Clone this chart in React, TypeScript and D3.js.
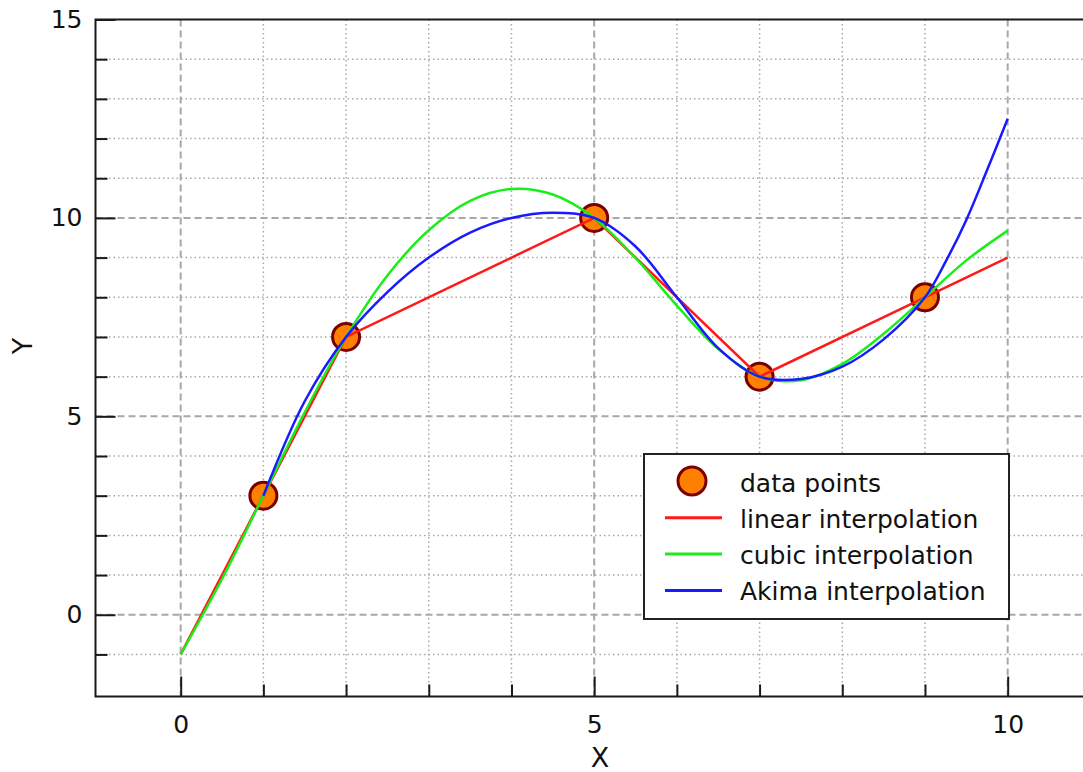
import React, { useRef, useEffect } from "react";
import * as d3 from "d3";

// measured points
const pointX = [1, 2, 5, 7, 9];
const pointY = [3, 7, 10, 6, 8];

// curves
const linearX = [0, 1, 2, 5, 7, 9, 10];
const linearY = [-1, 3, 7, 10, 6, 8, 9];
const cubicX = [0, 0.5, 1, 1.5, 2, 2.5, 3, 3.5, 4, 4.5, 5, 5.5, 6, 6.5, 7, 7.5, 8, 8.5, 9, 9.5, 10];
const cubicY = [-1, 0.9, 3, 5.1, 7, 8.55, 9.69, 10.43, 10.73, 10.59, 10, 8.99, 7.79, 6.7, 6, 5.91, 6.32, 7.08, 8, 8.93, 9.68];
const akimaX = [1, 1.5, 2, 2.5, 3, 3.5, 4, 4.5, 5, 5.5, 6, 6.5, 7, 7.5, 8, 8.5, 9, 9.25, 9.5, 9.75, 10];
const akimaY = [3, 5.38, 7, 8.13, 9, 9.63, 10, 10.13, 10, 9.28, 8, 6.72, 6, 5.94, 6.25, 6.94, 8, 8.9, 9.95, 11.2, 12.5];

const xMajor = [0, 5, 10];
const xMinor = [1, 2, 3, 4, 6, 7, 8, 9];
const yMajor = [0, 5, 10, 15];
const yMinor = [-1, 1, 2, 3, 4, 6, 7, 8, 9, 11, 12, 13, 14];

const legendItems = ["data points", "linear interpolation", "cubic interpolation", "Akima interpolation"];
const lineColors = ["#ff1a1a", "#1aee1a", "#1a1aff"];

const FONT = "'DejaVu Sans', sans-serif";

const App = () => {
  const svgRef = useRef(null);

  useEffect(() => {
    const width = 1083;
    const height = 772;
    const left = 95.5;
    const top = 19.5;
    const bottom = 696.5;

    const svg = d3.select(svgRef.current);
    svg.selectAll("*").remove();

    const x = d3.scaleLinear().domain([-1.03, 11]).range([left, left + 82.7 * 12.03]);
    const y = d3.scaleLinear().domain([-2.06, 15]).range([bottom, top]);
    const right = x(11);

    svg.append("rect").attr("width", width).attr("height", height).attr("fill", "#fff");

    // grid
    const grid = svg.append("g");
    grid.selectAll(".vminor").data(xMinor).enter().append("line")
      .attr("x1", (d) => x(d)).attr("x2", (d) => x(d))
      .attr("y1", top).attr("y2", bottom)
      .attr("stroke", "#a8a8a8").attr("stroke-width", 1.5).attr("stroke-dasharray", "1.5,3");
    grid.selectAll(".hminor").data(yMinor).enter().append("line")
      .attr("x1", left).attr("x2", right)
      .attr("y1", (d) => y(d)).attr("y2", (d) => y(d))
      .attr("stroke", "#a8a8a8").attr("stroke-width", 1.5).attr("stroke-dasharray", "1.5,3");
    grid.selectAll(".vmajor").data(xMajor).enter().append("line")
      .attr("x1", (d) => x(d)).attr("x2", (d) => x(d))
      .attr("y1", top).attr("y2", bottom)
      .attr("stroke", "#a8a8a8").attr("stroke-width", 2).attr("stroke-dasharray", "7,4");
    grid.selectAll(".hmajor").data(yMajor.filter((d) => d < 15)).enter().append("line")
      .attr("x1", left).attr("x2", right)
      .attr("y1", (d) => y(d)).attr("y2", (d) => y(d))
      .attr("stroke", "#a8a8a8").attr("stroke-width", 2).attr("stroke-dasharray", "7,4");

    // axes (ticks pointing inwards)
    const styleAxis = (g) => {
      g.select(".domain").remove();
      g.selectAll("line").attr("stroke", "#1a1a1a").attr("stroke-width", 2);
      g.selectAll("text").attr("font-family", FONT).attr("font-size", 25).attr("fill", "#111");
    };
    svg.append("g").attr("transform", `translate(0,${bottom})`)
      .call(d3.axisBottom(x).tickValues(xMinor).tickSize(-12).tickFormat(() => ""))
      .call(styleAxis);
    svg.append("g").attr("transform", `translate(0,${bottom})`)
      .call(d3.axisBottom(x).tickValues(xMajor).tickSize(-20).tickPadding(19).tickFormat(d3.format("d")))
      .call(styleAxis);
    svg.append("g").attr("transform", `translate(${left},0)`)
      .call(d3.axisLeft(y).tickValues(yMinor).tickSize(-12).tickFormat(() => ""))
      .call(styleAxis);
    svg.append("g").attr("transform", `translate(${left},0)`)
      .call(d3.axisLeft(y).tickValues(yMajor).tickSize(-20).tickPadding(13).tickFormat(d3.format("d")))
      .call(styleAxis);

    // frame
    svg.append("path")
      .attr("d", `M${right},${top}H${left}V${bottom}H${right}`)
      .attr("fill", "none").attr("stroke", "#1a1a1a").attr("stroke-width", 2);

    // axis titles
    svg.append("text").attr("x", 600).attr("y", 767).attr("text-anchor", "middle")
      .attr("font-family", FONT).attr("font-size", 27).attr("fill", "#111").text("X");
    svg.append("text").attr("transform", "translate(32,346) rotate(-90)").attr("text-anchor", "middle")
      .attr("font-family", FONT).attr("font-size", 27).attr("fill", "#111").text("Y");

    // data points below the curves
    svg.selectAll(".pt").data(pointX).enter().append("circle")
      .attr("cx", (d) => x(d)).attr("cy", (d, i) => y(pointY[i]))
      .attr("r", 13.5).attr("fill", "#ff8000").attr("stroke", "#7a0000").attr("stroke-width", 3);

    const series = [
      { xs: linearX, ys: linearY, curve: d3.curveLinear },
      { xs: cubicX, ys: cubicY, curve: d3.curveCatmullRom.alpha(0.5) },
      { xs: akimaX, ys: akimaY, curve: d3.curveCatmullRom.alpha(0.5) },
    ];
    series.forEach((s, k) => {
      const line = d3.line().x((d) => x(d)).y((d, i) => y(s.ys[i])).curve(s.curve);
      svg.append("path").datum(s.xs).attr("d", line)
        .attr("fill", "none").attr("stroke", lineColors[k]).attr("stroke-width", 2.5);
    });

    // legend
    const lg = svg.append("g").attr("transform", "translate(644,454)");
    lg.append("rect").attr("width", 365).attr("height", 165)
      .attr("fill", "#fff").attr("stroke", "#222").attr("stroke-width", 2);
    legendItems.forEach((label, i) => {
      const cy = 27 + i * 36.3;
      if (i === 0) {
        lg.append("circle").attr("cx", 48).attr("cy", cy).attr("r", 14)
          .attr("fill", "#ff8000").attr("stroke", "#7a0000").attr("stroke-width", 3);
      } else {
        lg.append("line").attr("x1", 21).attr("x2", 78).attr("y1", cy + 0.5).attr("y2", cy + 0.5)
          .attr("stroke", lineColors[i - 1]).attr("stroke-width", 3);
      }
      lg.append("text").attr("x", 96).attr("y", cy + 10.5)
        .attr("font-family", FONT).attr("font-size", 25).attr("fill", "#111").text(label);
    });
  }, []);

  return (
    <svg ref={svgRef} width={1083} height={772}
      style={{ position: "absolute", left: 0, top: 0, display: "block" }} />
  );
};

export default App;
